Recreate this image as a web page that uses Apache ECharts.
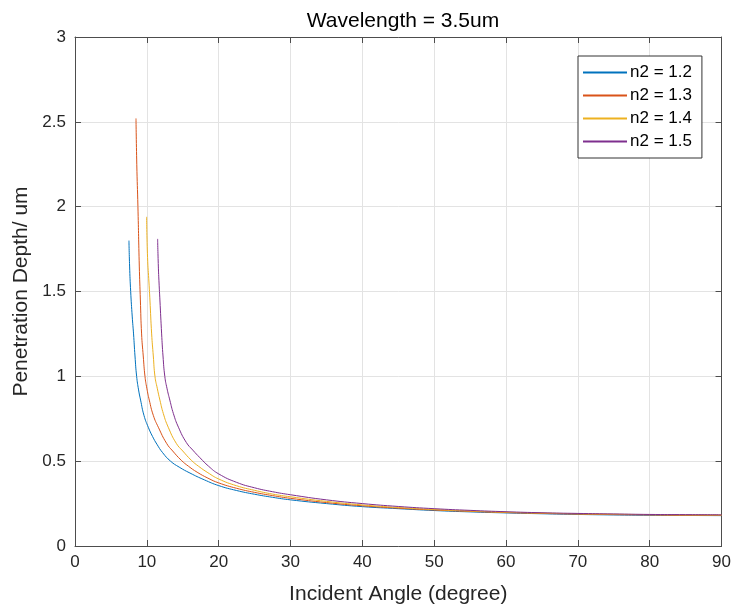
<!DOCTYPE html>
<html>
<head>
<meta charset="utf-8">
<script src="https://cdn.jsdelivr.net/npm/echarts@6/dist/echarts.min.js"></script>
<style>
html, body { margin: 0; padding: 0; background: #fff; }
#chart { width: 734px; height: 610px; }
</style>
</head>
<body>
<div id="chart"></div>
<script>
var seriesNames = ['n2 = 1.2', 'n2 = 1.3', 'n2 = 1.4', 'n2 = 1.5'];
var xTicks = [0, 10, 20, 30, 40, 50, 60, 70, 80, 90];
var yTicks = [0, 0.5, 1, 1.5, 2, 2.5, 3];

// incident angle (degree) and penetration depth (um)
var angle12 = [7.51, 7.6, 7.75, 7.97, 8.15, 8.35, 8.58, 8.85, 9.13, 9.6, 10.2, 10.8, 11.4, 12.2, 13.3, 14.5, 16, 18, 20, 22.5, 25, 27.5, 30, 35, 40, 45, 50, 55, 60, 65, 70, 75, 80, 85, 90];
var depth12 = [1.80, 1.65, 1.50, 1.35, 1.25, 1.12, 1.00, 0.92, 0.86, 0.77, 0.70, 0.645, 0.60, 0.55, 0.50, 0.465, 0.43, 0.39, 0.356, 0.327, 0.305, 0.287, 0.272, 0.250, 0.232, 0.220, 0.209, 0.201, 0.195, 0.190, 0.186, 0.183, 0.181, 0.180, 0.179];

var angle13 = [8.49, 8.6, 8.76, 8.95, 9.1, 9.27, 9.5, 9.74, 10.0, 10.34, 10.9, 11.6, 12.75, 13.6, 14.8, 15.8, 17, 18.5, 20, 22.5, 25, 27.5, 30, 35, 40, 45, 50, 55, 60, 65, 70, 75, 80, 85, 90];
var depth13 = [2.52, 2.25, 2.00, 1.65, 1.45, 1.25, 1.12, 1.00, 0.93, 0.86, 0.77, 0.70, 0.605, 0.56, 0.505, 0.47, 0.435, 0.40, 0.372, 0.340, 0.316, 0.297, 0.281, 0.256, 0.237, 0.223, 0.212, 0.204, 0.197, 0.192, 0.188, 0.185, 0.183, 0.181, 0.181];

var angle14 = [9.97, 10.1, 10.3, 10.43, 10.67, 10.9, 11.13, 11.45, 11.82, 12.3, 12.98, 14.1, 15.0, 16.2, 17.2, 18.5, 20, 22.5, 25, 27.5, 30, 35, 40, 45, 50, 55, 60, 65, 70, 75, 80, 85, 90];
var depth14 = [1.94, 1.70, 1.55, 1.45, 1.25, 1.12, 1.00, 0.93, 0.86, 0.78, 0.70, 0.605, 0.56, 0.505, 0.47, 0.432, 0.395, 0.355, 0.328, 0.306, 0.290, 0.263, 0.242, 0.227, 0.215, 0.206, 0.199, 0.194, 0.190, 0.187, 0.185, 0.183, 0.182];

var angle15 = [11.5, 11.6, 11.7, 11.82, 12.06, 12.25, 12.5, 12.8, 13.2, 13.7, 14.4, 15.5, 16.4, 17.4, 18.6, 20, 22.5, 25, 27.5, 30, 35, 40, 45, 50, 55, 60, 65, 70, 75, 80, 85, 90];
var depth15 = [1.81, 1.65, 1.55, 1.45, 1.25, 1.12, 1.00, 0.93, 0.86, 0.78, 0.70, 0.61, 0.565, 0.52, 0.47, 0.425, 0.375, 0.343, 0.320, 0.302, 0.272, 0.250, 0.233, 0.220, 0.210, 0.202, 0.196, 0.192, 0.189, 0.186, 0.185, 0.184];

var colors = ['#0072BD', '#D95319', '#EDB120', '#7E2F8E'];
var angles = [angle12, angle13, angle14, angle15];
var depths = [depth12, depth13, depth14, depth15];

function pairs(xs, ys) {
  var out = [];
  for (var i = 0; i < xs.length; i++) out.push([xs[i], ys[i]]);
  return out;
}

var font = '"Liberation Sans", Arial, Helvetica, sans-serif';
var axisColor = '#4d4d4d';
var textColor = '#262626';

var series = seriesNames.map(function (name, i) {
  return {
    name: name,
    type: 'line',
    data: pairs(angles[i], depths[i]),
    showSymbol: false,
    symbol: 'none',
    smooth: 0.5,
    lineStyle: { color: colors[i], width: 1 },
    itemStyle: { color: colors[i] },
    animation: false
  };
});

var chart = echarts.init(document.getElementById('chart'), null, { renderer: 'canvas' });
chart.setOption({
  backgroundColor: '#fff',
  animation: false,
  color: colors,
  title: {
    text: 'Wavelength = 3.5um',
    left: 398,
    textAlign: 'center',
    top: 6,
    textStyle: { fontFamily: font, fontSize: 21, fontWeight: 'normal', color: '#000' }
  },
  legend: {
    data: seriesNames,
    orient: 'vertical',
    left: 578,
    top: 56,
    padding: [8, 10, 8, 5],
    itemGap: 6,
    itemWidth: 44,
    itemHeight: 2,
    icon: 'rect',
    borderColor: '#333',
    borderWidth: 1,
    backgroundColor: '#fff',
    textStyle: { fontFamily: font, fontSize: 17, color: '#000', padding: [0, 0, 0, -2] }
  },
  grid: { left: 75, right: 12, top: 37, bottom: 64, containLabel: false },
  xAxis: [{
    type: 'value',
    min: 0,
    max: 90,
    interval: 10,
    name: 'Incident Angle (degree)',
    nameLocation: 'middle',
    nameGap: 38,
    nameTextStyle: { fontFamily: font, fontSize: 21, color: textColor },
    axisLine: { show: true, onZero: false, lineStyle: { color: axisColor, width: 1 } },
    axisTick: { show: true, inside: true, length: 6, lineStyle: { color: axisColor } },
    axisLabel: { fontFamily: font, fontSize: 17, color: textColor, margin: 8 },
    splitLine: { show: true, lineStyle: { color: '#e3e3e3', width: 1 } }
  }, {
    type: 'value',
    position: 'top',
    min: 0,
    max: 90,
    interval: 10,
    axisLine: { show: true, onZero: false, lineStyle: { color: axisColor, width: 1 } },
    axisTick: { show: true, inside: true, length: 6, lineStyle: { color: axisColor } },
    axisLabel: { show: false },
    splitLine: { show: false }
  }],
  yAxis: [{
    type: 'value',
    min: 0,
    max: 3,
    interval: 0.5,
    name: 'Penetration Depth/ um',
    nameLocation: 'middle',
    nameGap: 42,
    nameTextStyle: { fontFamily: font, fontSize: 21, color: textColor },
    axisLine: { show: true, onZero: false, lineStyle: { color: axisColor, width: 1 } },
    axisTick: { show: true, inside: true, length: 6, lineStyle: { color: axisColor } },
    axisLabel: { fontFamily: font, fontSize: 17, color: textColor, margin: 9 },
    splitLine: { show: true, lineStyle: { color: '#e3e3e3', width: 1 } }
  }, {
    type: 'value',
    position: 'right',
    min: 0,
    max: 3,
    interval: 0.5,
    axisLine: { show: true, onZero: false, lineStyle: { color: axisColor, width: 1 } },
    axisTick: { show: true, inside: true, length: 6, lineStyle: { color: axisColor } },
    axisLabel: { show: false },
    splitLine: { show: false }
  }],
  series: series
});
</script>
</body>
</html>
